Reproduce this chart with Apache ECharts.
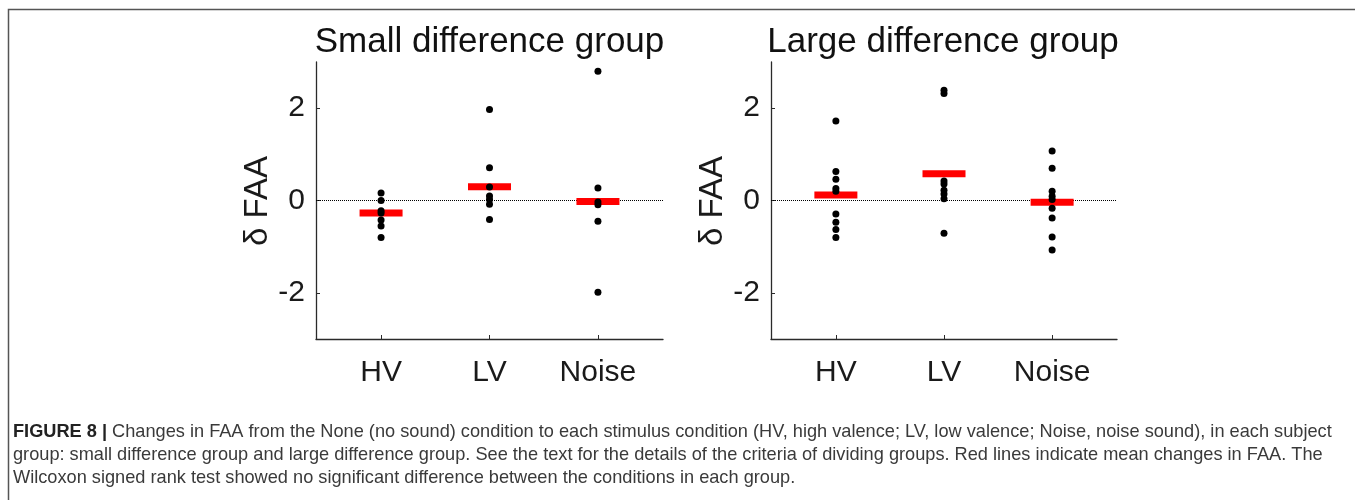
<!DOCTYPE html>
<html>
<head>
<meta charset="utf-8">
<script src="https://cdn.jsdelivr.net/npm/echarts@6/dist/echarts.min.js"></script>
<style>
html,body{margin:0;padding:0;background:#fff;}
#c{width:1355px;height:500px;}
</style>
</head>
<body>
<div id="c"></div>
<script>
const categories = ['HV', 'LV', 'Noise'];
const yTicks = [-2, 0, 2];
const titles = ['Small difference group', 'Large difference group'];
const yName = 'δ FAA';

const smallHV = [0.16, 0, -0.22, -0.27, -0.42, -0.55, -0.80];
const smallLV = [1.97, 0.71, 0.29, 0.10, 0.02, -0.08, -0.41];
const smallNoise = [2.80, 0.27, -0.03, -0.09, -0.45, -1.99];
const smallMeans = [-0.27, 0.30, -0.02];

const largeHV = [1.72, 0.63, 0.46, 0.26, 0.20, -0.29, -0.47, -0.63, -0.80];
const largeLV = [2.39, 2.32, 0.42, 0.36, 0.22, 0.14, 0.04, -0.71];
const largeNoise = [1.07, 0.70, 0.20, 0.09, 0.02, -0.17, -0.38, -0.79, -1.07];
const largeMeans = [0.12, 0.58, -0.04];

const captionLines = [
  'Changes in FAA from the None (no sound) condition to each stimulus condition (HV, high valence; LV, low valence; Noise, noise sound), in each subject',
  'group: small difference group and large difference group. See the text for the details of the criteria of dividing groups. Red lines indicate mean changes in FAA. The',
  'Wilcoxon signed rank test showed no significant difference between the conditions in each group.'
];

const groups = [
  {lists: [smallHV, smallLV, smallNoise], means: smallMeans},
  {lists: [largeHV, largeLV, largeNoise], means: largeMeans}
];

const grids = [
  {left: 316, top: 62, width: 347, height: 277},
  {left: 771, top: 62, width: 346, height: 277}
];

const axisColor = '#2a2a2a';
const xAxes = grids.map((g, i) => ({
  gridIndex: i, type: 'value', min: 0.4, max: 3.6,
  axisLine: {show: true, onZero: false, lineStyle: {color: axisColor, width: 1.3}},
  axisTick: {show: true, inside: true, length: 4, customValues: [1, 2, 3], lineStyle: {color: axisColor}},
  axisLabel: {show: true, customValues: [1, 2, 3], margin: 19, fontSize: 30, color: '#1a1a1a',
    fontFamily: 'Liberation Sans, Arial, sans-serif',
    formatter: v => categories[Math.round(v) - 1] || ''},
  splitLine: {show: false}
}));
const yAxes = grids.map((g, i) => ({
  gridIndex: i, type: 'value', min: -3, max: 3,
  axisLine: {show: true, onZero: false, lineStyle: {color: axisColor, width: 1.3}},
  axisTick: {show: true, inside: true, length: 4, customValues: yTicks, lineStyle: {color: axisColor}},
  axisLabel: {show: true, customValues: yTicks, margin: 11, fontSize: 30, color: '#1a1a1a',
    fontFamily: 'Liberation Sans, Arial, sans-serif'},
  splitLine: {show: false}
}));

const series = [];
groups.forEach((grp, gi) => {
  series.push({
    type: 'scatter', xAxisIndex: gi, yAxisIndex: gi, z: 3,
    symbol: 'rect', symbolSize: [43, 7],
    itemStyle: {color: '#ff0000', opacity: 1},
    data: grp.means.map((m, ci) => [ci + 1, m]),
    markLine: {
      silent: true, symbol: 'none', label: {show: false}, z: 2,
      lineStyle: {type: 'dotted', color: '#000', width: 1, opacity: 1},
      data: [{yAxis: 0}]
    }
  });
  const pts = [];
  grp.lists.forEach((arr, ci) => arr.forEach(v => pts.push([ci + 1, v])));
  series.push({
    type: 'scatter', xAxisIndex: gi, yAxisIndex: gi, z: 4,
    symbol: 'circle', symbolSize: 7,
    itemStyle: {color: '#000', opacity: 1},
    data: pts
  });
});

const graphics = [
  {type: 'rect', shape: {x: 8.5, y: 9.5, width: 1400, height: 600},
   style: {fill: 'none', stroke: '#555', lineWidth: 1.5}, silent: true},
  {type: 'text', x: 489.5, y: 42, style: {text: titles[0], fontSize: 35, fill: '#111',
    fontFamily: 'Liberation Sans, Arial, sans-serif', align: 'center', verticalAlign: 'middle'}},
  {type: 'text', x: 943, y: 42, style: {text: titles[1], fontSize: 35, fill: '#111',
    fontFamily: 'Liberation Sans, Arial, sans-serif', align: 'center', verticalAlign: 'middle'}},
  {type: 'text', x: 258, y: 201, rotation: Math.PI / 2, style: {text: yName, fontSize: 33, fill: '#1a1a1a',
    fontFamily: 'Liberation Sans, Arial, sans-serif', align: 'center', verticalAlign: 'middle'}},
  {type: 'text', x: 713, y: 201, rotation: Math.PI / 2, style: {text: yName, fontSize: 33, fill: '#1a1a1a',
    fontFamily: 'Liberation Sans, Arial, sans-serif', align: 'center', verticalAlign: 'middle'}}
];
const capY = [432, 455, 478];
captionLines.forEach((line, i) => {
  graphics.push({
    type: 'text', x: 13, y: capY[i],
    style: {
      text: i === 0 ? '{b|FIGURE 8 |} ' + line : line,
      fontSize: 18.2, fill: '#3a3a3a', fontFamily: 'Liberation Sans, Arial, sans-serif',
      align: 'left', verticalAlign: 'middle',
      rich: {b: {fontWeight: 'bold', fontSize: 18.2, fill: '#222', fontFamily: 'Liberation Sans, Arial, sans-serif'}}
    }
  });
});

const chart = echarts.init(document.getElementById('c'), null, {renderer: 'canvas'});
chart.setOption({
  animation: false,
  backgroundColor: '#fff',
  grid: grids,
  xAxis: xAxes,
  yAxis: yAxes,
  series: series,
  graphic: graphics
});
</script>
</body>
</html>
